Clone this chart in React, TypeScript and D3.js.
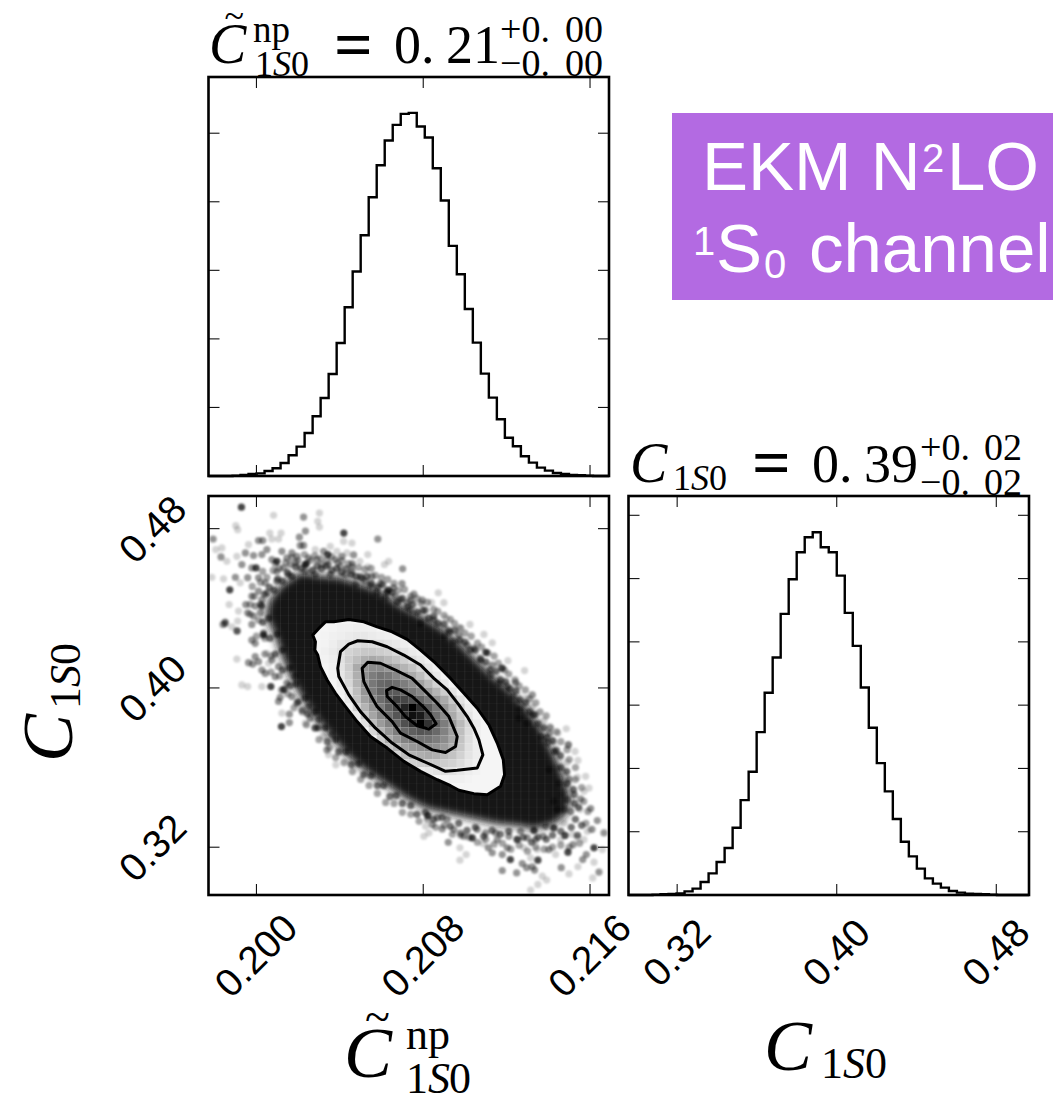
import React from 'react';
import * as d3 from 'd3';

const histTopCounts = [0, 0, 0, 5, 15, 29, 39, 73, 112, 190, 302, 428, 627, 871, 1138, 1488, 1941, 2461, 2982, 3512, 4066, 4533, 4893, 5122, 5282, 5297, 5097, 4937, 4489, 4018, 3356, 2943, 2437, 1946, 1493, 1143, 827, 559, 433, 287, 195, 122, 78, 44, 29, 15, 10, 5, 0, 0];
const histRightCounts = [0, 0, 0, 5, 11, 16, 26, 58, 100, 205, 342, 521, 742, 1063, 1500, 1947, 2574, 3195, 3753, 4442, 4989, 5416, 5653, 5732, 5495, 5416, 5047, 4458, 3937, 3279, 2642, 2084, 1637, 1200, 842, 611, 416, 263, 179, 116, 63, 37, 21, 16, 11, 5, 0, 0, 0, 0];

const xTicks = [0.2, 0.208, 0.216];
const yTicks = [0.32, 0.4, 0.48];
const topCountTicks = [1000, 2000, 3000, 4000, 5000];
const rightCountTicks = [1000, 2000, 3000, 4000, 5000, 6000];

// 2d histogram shades, inside the outer contour: [row from top, first column, greys...]
const cellRows: number[][] = [
  [15, 14, 245, 245, 245, 245, 245, 245, 245],
  [16, 14, 245, 243, 240, 240, 238, 240, 240, 245],
  [17, 13, 245, 243, 240, 238, 235, 232, 232, 235, 238, 240, 243],
  [18, 13, 245, 243, 238, 230, 225, 220, 218, 220, 222, 228, 232, 238, 242],
  [19, 13, 245, 240, 235, 225, 212, 205, 200, 200, 205, 210, 218, 228, 235, 240],
  [20, 14, 242, 238, 225, 205, 190, 175, 168, 175, 185, 195, 208, 222, 232, 240],
  [21, 14, 245, 240, 228, 205, 170, 150, 140, 138, 150, 165, 180, 195, 215, 230, 240],
  [22, 14, 245, 240, 230, 210, 175, 145, 125, 115, 120, 135, 150, 170, 190, 215, 232, 242],
  [23, 15, 245, 235, 215, 180, 145, 120, 105, 100, 110, 125, 140, 160, 185, 210, 230, 242],
  [24, 15, 245, 240, 222, 190, 150, 125, 100, 90, 90, 105, 120, 135, 155, 180, 205, 228, 242],
  [25, 16, 243, 230, 195, 160, 135, 110, 90, 65, 70, 80, 100, 120, 145, 170, 200, 225, 240],
  [26, 17, 240, 212, 180, 150, 125, 95, 70, 35, 0, 45, 90, 120, 150, 180, 210, 235, 243],
  [27, 18, 235, 200, 165, 135, 110, 85, 50, 15, 25, 70, 110, 140, 170, 200, 228, 242, 245],
  [28, 19, 225, 190, 155, 130, 105, 80, 50, 0, 50, 95, 125, 155, 185, 215, 235, 245],
  [29, 20, 215, 180, 150, 125, 105, 95, 85, 90, 105, 130, 160, 190, 220, 238, 245],
  [30, 21, 205, 170, 150, 130, 120, 115, 115, 125, 140, 165, 195, 222, 238, 245, 245],
  [31, 22, 195, 180, 160, 150, 145, 140, 145, 155, 175, 200, 225, 238, 245, 245],
  [32, 23, 210, 190, 180, 175, 170, 175, 185, 195, 210, 228, 238, 245, 245],
  [33, 24, 215, 208, 205, 200, 200, 205, 210, 220, 232, 240, 245, 245],
  [34, 26, 235, 230, 225, 222, 225, 232, 238, 242, 245, 245, 245],
  [35, 28, 245, 243, 240, 240, 243, 245, 245, 245, 245],
  [36, 30, 245, 245, 245, 245, 245, 245],
];

const blobEdge = [[0.20059, 0.4441], [0.20115, 0.4516], [0.20211, 0.4583], [0.20307, 0.4566], [0.20403, 0.4558], [0.20499, 0.4524], [0.20595, 0.4491], [0.20691, 0.4416], [0.20787, 0.4366], [0.20883, 0.4307], [0.20979, 0.4224], [0.21059, 0.414], [0.21139, 0.4057], [0.21219, 0.399], [0.21307, 0.389], [0.21379, 0.3773], [0.21435, 0.3656], [0.21475, 0.3556], [0.21507, 0.3447], [0.21491, 0.3364], [0.21427, 0.3314], [0.21331, 0.3289], [0.21251, 0.3305], [0.21155, 0.3314], [0.21043, 0.3339], [0.20931, 0.3364], [0.20819, 0.3389], [0.20723, 0.3439], [0.20627, 0.3506], [0.20531, 0.3572], [0.20435, 0.3656], [0.20355, 0.3756], [0.20275, 0.3856], [0.20211, 0.3957], [0.20155, 0.4065], [0.20115, 0.4174], [0.20083, 0.4274], [0.20043, 0.4357]];

const contourOuter = [[0.20331, 0.4332], [0.20371, 0.4332], [0.20443, 0.4344], [0.20515, 0.4332], [0.20579, 0.4307], [0.20651, 0.4282], [0.20723, 0.4244], [0.20787, 0.419], [0.20859, 0.4124], [0.20931, 0.4048], [0.20995, 0.3973], [0.21059, 0.3898], [0.21115, 0.3815], [0.21155, 0.3723], [0.21184, 0.3639], [0.2119, 0.3564], [0.21171, 0.3506], [0.21107, 0.3464], [0.21043, 0.3469], [0.20971, 0.3486], [0.20931, 0.3509], [0.20867, 0.3539], [0.20787, 0.3581], [0.20707, 0.3631], [0.20627, 0.3698], [0.20547, 0.3756], [0.20483, 0.3831], [0.20427, 0.3906], [0.20379, 0.3973], [0.20339, 0.404], [0.20307, 0.4107], [0.20294, 0.4165], [0.2028, 0.419], [0.20283, 0.4232], [0.2027, 0.4266], [0.20299, 0.4299]];
const contourSecond = [[0.20486, 0.4237], [0.20555, 0.4232], [0.20627, 0.4207], [0.20707, 0.4165], [0.20787, 0.4115], [0.20851, 0.4048], [0.20915, 0.399], [0.20971, 0.3915], [0.21011, 0.3856], [0.21043, 0.3798], [0.21067, 0.3739], [0.21086, 0.3664], [0.21059, 0.3598], [0.20963, 0.3586], [0.20907, 0.3581], [0.20819, 0.3623], [0.20731, 0.3664], [0.20651, 0.3723], [0.20571, 0.3798], [0.20499, 0.3881], [0.20443, 0.3965], [0.20395, 0.4057], [0.2039, 0.4099], [0.20403, 0.4182], [0.20443, 0.422]];
const contourThird = [[0.20534, 0.4129], [0.20595, 0.4124], [0.20667, 0.409], [0.20747, 0.4048], [0.20803, 0.399], [0.20867, 0.3923], [0.20923, 0.3856], [0.20963, 0.3756], [0.20955, 0.3706], [0.20907, 0.3676], [0.20843, 0.3689], [0.20771, 0.3731], [0.20691, 0.3773], [0.20651, 0.3831], [0.20579, 0.3906], [0.20547, 0.3965], [0.20515, 0.4032], [0.20507, 0.4099]];
const contourInner = [[0.20651, 0.4003], [0.20691, 0.399], [0.20747, 0.3957], [0.20803, 0.3903], [0.20835, 0.3865], [0.20862, 0.382], [0.20827, 0.3793], [0.20771, 0.381], [0.20715, 0.3856], [0.20675, 0.3906], [0.20627, 0.3957], [0.20624, 0.3987]];

const samplesDark = [[0.19928, 0.4908], [0.20419, 0.4778], [0.20342, 0.467], [0.19872, 0.4493], [0.20632, 0.4491], [0.20234, 0.462], [0.19998, 0.4603], [0.20098, 0.4636], [0.2012, 0.3806], [0.20131, 0.3992], [0.20069, 0.4007], [0.20034, 0.4266], [0.21619, 0.3197], [0.21494, 0.3175], [0.2148, 0.3259], [0.21426, 0.3297], [0.21331, 0.3285], [0.2135, 0.3135], [0.21218, 0.3138], [0.20822, 0.3359], [0.21035, 0.3247], [0.21178, 0.4099], [0.21101, 0.4179]];
const samplesMid = [[0.20206, 0.4757], [0.19949, 0.4419], [0.19899, 0.4556], [0.1983, 0.4658], [0.19947, 0.4678], [0.19978, 0.4603], [0.2001, 0.4553], [0.20466, 0.4668], [0.20459, 0.4625], [0.2001, 0.474], [0.2003, 0.474], [0.20226, 0.4716], [0.2021, 0.4716], [0.20582, 0.4748], [0.20226, 0.4858], [0.20235, 0.4788], [0.19792, 0.4748], [0.1993, 0.462], [0.19986, 0.4665], [0.19958, 0.4554], [0.20701, 0.4598], [0.20698, 0.4524], [0.19958, 0.4377], [0.1985, 0.4331], [0.1984, 0.4319], [0.19907, 0.4286], [0.19978, 0.4319], [0.20034, 0.4277], [0.20026, 0.467], [0.2005, 0.4695], [0.20074, 0.4645], [0.20122, 0.4686], [0.20146, 0.4653], [0.2017, 0.4678], [0.20194, 0.4661], [0.2013, 0.4603], [0.20098, 0.4586], [0.20162, 0.462], [0.20189, 0.4628], [0.2025, 0.4653], [0.2029, 0.4645], [0.20322, 0.4686], [0.20314, 0.462], [0.20346, 0.462], [0.20378, 0.4645], [0.2041, 0.4661], [0.20402, 0.4611], [0.20458, 0.4586], [0.20426, 0.4569], [0.20498, 0.4561], [0.20554, 0.4561], [0.20522, 0.4536], [0.20546, 0.4514], [0.20594, 0.4524], [0.20578, 0.4478], [0.20658, 0.4503], [0.20618, 0.4453], [0.20666, 0.4461], [0.2069, 0.4444], [0.20722, 0.4428], [0.20042, 0.4528], [0.2001, 0.4486], [0.19978, 0.4461], [0.2005, 0.4478], [0.19994, 0.4411], [0.20026, 0.4444], [0.20018, 0.4377], [0.19986, 0.4361], [0.20098, 0.4536], [0.20154, 0.4569], [0.20234, 0.4586], [0.20282, 0.4569], [0.20354, 0.4569], [0.20474, 0.4519],
  [0.20158, 0.3826], [0.20158, 0.3868], [0.20106, 0.3932], [0.20114, 0.3953], [0.19962, 0.4127], [0.19982, 0.412], [0.19994, 0.4157], [0.19907, 0.4287], [0.1985, 0.4324], [0.19978, 0.424], [0.19994, 0.4224], [0.20026, 0.409], [0.20074, 0.414], [0.20106, 0.4107], [0.2009, 0.4057], [0.20186, 0.4057], [0.20194, 0.3923], [0.20218, 0.389], [0.20258, 0.3848], [0.20282, 0.3798], [0.20338, 0.3689], [0.2001, 0.4132], [0.20042, 0.4073], [0.20146, 0.4023], [0.2017, 0.3957], [0.2025, 0.3906], [0.20298, 0.384], [0.20362, 0.3765],
  [0.21518, 0.3213], [0.21275, 0.3118], [0.21179, 0.3083], [0.21248, 0.3071], [0.21296, 0.3097], [0.21323, 0.3102], [0.21334, 0.3085], [0.21462, 0.3097], [0.21565, 0.3138], [0.21582, 0.3163], [0.21643, 0.3075], [0.21635, 0.3334], [0.21603, 0.3394], [0.21667, 0.3272], [0.2092, 0.3225], [0.20891, 0.3292], [0.20979, 0.3272], [0.21131, 0.3172], [0.21179, 0.3163], [0.21112, 0.3197], [0.21203, 0.3197], [0.21403, 0.3188], [0.21376, 0.3255], [0.21507, 0.338], [0.21555, 0.3442], [0.21491, 0.3439], [0.21499, 0.3542], [0.21496, 0.3714], [0.2144, 0.3684], [0.21251, 0.3238], [0.21155, 0.3238], [0.21099, 0.3272], [0.21059, 0.3289], [0.20947, 0.3289], [0.20915, 0.3339], [0.20867, 0.3347], [0.21299, 0.3247], [0.21267, 0.328], [0.21387, 0.3305], [0.21443, 0.3389], [0.21427, 0.3431], [0.21451, 0.3522], [0.21403, 0.3589], [0.20995, 0.3255], [0.20843, 0.3314], [0.21147, 0.3272], [0.21211, 0.3255], [0.21339, 0.3238], [0.21475, 0.3389], [0.21523, 0.3464],
  [0.20755, 0.4471], [0.21243, 0.4027], [0.2123, 0.3957], [0.21262, 0.3893], [0.21326, 0.3865], [0.21406, 0.3773], [0.21323, 0.3965], [0.20971, 0.4266], [0.2092, 0.4291], [0.20795, 0.4441], [0.20739, 0.4391], [0.20811, 0.4391], [0.20851, 0.4341], [0.20899, 0.4257], [0.20947, 0.4232], [0.21011, 0.4215], [0.21043, 0.4199], [0.21075, 0.4149], [0.21131, 0.4115], [0.21123, 0.4065], [0.21163, 0.4023], [0.21203, 0.4007], [0.21259, 0.3848], [0.21299, 0.3823], [0.21363, 0.3756], [0.21395, 0.3723], [0.20787, 0.4324], [0.20739, 0.4441]];
const samplesLight = [[0.20418, 0.4736], [0.20458, 0.4728], [0.20302, 0.4878], [0.20294, 0.4837], [0.20302, 0.4808], [0.20082, 0.4867], [0.19901, 0.4815], [0.1991, 0.4795], [0.19834, 0.4703], [0.19805, 0.4695], [0.19962, 0.472], [0.20118, 0.4778], [0.20064, 0.4778], [0.20074, 0.4748], [0.20106, 0.4748], [0.20534, 0.467], [0.20534, 0.4608], [0.20496, 0.4636], [0.20614, 0.462], [0.20634, 0.4636], [0.19786, 0.4556], [0.19842, 0.4548], [0.19858, 0.4636], [0.19906, 0.4661], [0.19922, 0.4528], [0.19869, 0.4419], [0.19914, 0.4386], [0.1991, 0.4336], [0.20282, 0.4695], [0.20354, 0.4711], [0.20386, 0.4686], [0.20434, 0.4678],
  [0.20122, 0.3873], [0.20026, 0.4007], [0.19958, 0.4007], [0.1993, 0.4015], [0.19906, 0.4145], [0.19882, 0.4307], [0.2005, 0.4174], [0.20058, 0.4124], [0.20234, 0.3823], [0.20322, 0.3756], [0.20381, 0.3614], [0.20346, 0.3664],
  [0.21542, 0.3102], [0.21613, 0.3046], [0.21499, 0.3066], [0.21659, 0.3188], [0.21619, 0.3125], [0.21371, 0.3055], [0.21392, 0.3035], [0.2135, 0.3013], [0.21315, 0.2985], [0.20976, 0.3197], [0.21006, 0.3163], [0.20976, 0.3135], [0.21088, 0.3218], [0.21283, 0.3197], [0.21435, 0.3163], [0.21475, 0.3322], [0.21552, 0.3389], [0.21579, 0.3556], [0.21539, 0.3552], [0.21542, 0.3636], [0.21528, 0.3681], [0.21491, 0.3626], [0.21427, 0.3731], [0.21595, 0.3497], [0.21571, 0.3481], [0.21526, 0.3464], [0.21347, 0.3188], [0.21315, 0.3147], [0.20811, 0.3305], [0.20803, 0.3255], [0.20827, 0.3272], [0.21459, 0.3238], [0.21587, 0.328], [0.21571, 0.3238], [0.21603, 0.3289], [0.21539, 0.3247], [0.21515, 0.3264], [0.21467, 0.3472], [0.21435, 0.3598],
  [0.20872, 0.4478], [0.2084, 0.4428], [0.20899, 0.4428], [0.20912, 0.4349], [0.21024, 0.4319], [0.21091, 0.4269], [0.21131, 0.4227], [0.21206, 0.4137], [0.21286, 0.4087], [0.21296, 0.3948], [0.21323, 0.3903], [0.21379, 0.3835], [0.21408, 0.3806], [0.21486, 0.3795], [0.21446, 0.3773], [0.21496, 0.3716], [0.21437, 0.3693], [0.20971, 0.4304], [0.21339, 0.379]];
// the mottled band right along the dense region
const samplesEdge = [[0.2004, 0.447], [0.2002, 0.442], [0.20062, 0.4505], [0.20085, 0.449], [0.20102, 0.4548], [0.20125, 0.4535], [0.20148, 0.458], [0.2017, 0.456], [0.20188, 0.4608], [0.20215, 0.46], [0.2024, 0.4625], [0.20268, 0.459], [0.2029, 0.4612], [0.20312, 0.4598], [0.20335, 0.4612], [0.20362, 0.459], [0.20385, 0.46], [0.20408, 0.458], [0.20432, 0.4598], [0.20455, 0.457], [0.20478, 0.456], [0.20505, 0.4552], [0.2053, 0.456], [0.20552, 0.4525], [0.2058, 0.4505], [0.20605, 0.452], [0.20625, 0.448], [0.2065, 0.448], [0.20675, 0.443], [0.207, 0.445], [0.20725, 0.4405], [0.2075, 0.442], [0.20772, 0.438], [0.208, 0.439], [0.20825, 0.435], [0.2085, 0.436], [0.2087, 0.4325], [0.209, 0.432], [0.20925, 0.428], [0.2095, 0.429], [0.20975, 0.424], [0.21, 0.423], [0.21025, 0.419], [0.2105, 0.419], [0.21075, 0.414], [0.211, 0.413], [0.2112, 0.409], [0.2115, 0.4085], [0.2117, 0.404], [0.21195, 0.403], [0.21215, 0.3995], [0.21245, 0.3985], [0.21262, 0.394], [0.2129, 0.3925], [0.2131, 0.388], [0.21335, 0.3865], [0.2135, 0.382], [0.21378, 0.38], [0.21392, 0.375], [0.2142, 0.3735], [0.2143, 0.368], [0.21458, 0.366], [0.2146, 0.36], [0.21488, 0.358], [0.2149, 0.352], [0.2152, 0.349], [0.21525, 0.342], [0.21545, 0.34], [0.2153, 0.334], [0.2156, 0.331], [0.2151, 0.33], [0.2154, 0.326],
  [0.2146, 0.328], [0.2142, 0.326], [0.2139, 0.324], [0.2135, 0.325], [0.2132, 0.3225], [0.2128, 0.325], [0.2125, 0.324], [0.2121, 0.328], [0.2117, 0.3265], [0.2113, 0.3285], [0.2109, 0.3255], [0.2105, 0.33], [0.2101, 0.3285], [0.2097, 0.332], [0.2093, 0.3305], [0.2089, 0.335], [0.2085, 0.334], [0.2081, 0.3375], [0.2077, 0.3365], [0.2074, 0.341], [0.207, 0.342], [0.2067, 0.346], [0.2064, 0.3455], [0.2061, 0.351], [0.2058, 0.351], [0.2055, 0.356], [0.20515, 0.3565], [0.2049, 0.362], [0.20455, 0.3615], [0.2043, 0.368], [0.20395, 0.368], [0.2038, 0.374], [0.2034, 0.373], [0.2033, 0.38], [0.20295, 0.38], [0.2028, 0.388], [0.20245, 0.387], [0.20235, 0.395], [0.202, 0.393], [0.2019, 0.402], [0.2016, 0.401], [0.2016, 0.41], [0.20125, 0.409], [0.20125, 0.419], [0.2009, 0.417], [0.201, 0.427], [0.20065, 0.425], [0.2006, 0.435], [0.2003, 0.433], [0.20025, 0.441]];
// the looser band outside that one
const samplesFringe = [[0.1999, 0.446], [0.1998, 0.451], [0.2002, 0.453], [0.2005, 0.4555], [0.2003, 0.4585], [0.2008, 0.459], [0.2011, 0.46], [0.2009, 0.4625], [0.2014, 0.463], [0.2017, 0.4655], [0.202, 0.464], [0.2023, 0.467], [0.2026, 0.464], [0.2028, 0.4665], [0.2031, 0.465], [0.2034, 0.464], [0.2036, 0.466], [0.2039, 0.463], [0.2041, 0.464], [0.2044, 0.4625], [0.2046, 0.461], [0.2049, 0.4605], [0.2052, 0.4595], [0.2055, 0.46], [0.2057, 0.4565], [0.206, 0.4555], [0.2063, 0.4545], [0.2066, 0.4525], [0.2068, 0.449], [0.2071, 0.4495], [0.2074, 0.446], [0.2077, 0.445], [0.2079, 0.4425], [0.2082, 0.443], [0.2085, 0.4395], [0.2087, 0.4385], [0.209, 0.4365], [0.2093, 0.4345], [0.2095, 0.4325], [0.2098, 0.43], [0.21, 0.4275], [0.2103, 0.426], [0.2106, 0.4225], [0.2108, 0.4205], [0.2111, 0.4175], [0.2114, 0.416], [0.2116, 0.4125], [0.2119, 0.409], [0.2121, 0.407], [0.2124, 0.404], [0.2126, 0.401], [0.2129, 0.399], [0.2131, 0.3945], [0.2134, 0.3925], [0.2136, 0.388], [0.2139, 0.386], [0.2141, 0.38], [0.2144, 0.378], [0.2146, 0.373], [0.2149, 0.369], [0.215, 0.364], [0.2153, 0.36], [0.2153, 0.354], [0.2156, 0.35], [0.2157, 0.343], [0.2159, 0.338], [0.2158, 0.332], [0.2161, 0.329],
  [0.2155, 0.322], [0.215, 0.32], [0.2146, 0.321], [0.2142, 0.32], [0.2138, 0.319], [0.2134, 0.32], [0.213, 0.318], [0.2126, 0.321], [0.2122, 0.319], [0.2118, 0.322], [0.2114, 0.3215], [0.211, 0.324], [0.2106, 0.3225], [0.2102, 0.325], [0.2098, 0.326], [0.2094, 0.3265], [0.209, 0.331], [0.2086, 0.33], [0.2082, 0.334], [0.2078, 0.333], [0.2074, 0.3365], [0.207, 0.3375], [0.2066, 0.342], [0.2062, 0.3425], [0.2058, 0.347], [0.2054, 0.351], [0.205, 0.354], [0.2046, 0.358], [0.2042, 0.3625], [0.2038, 0.365], [0.2035, 0.37], [0.203, 0.374], [0.2028, 0.38], [0.2024, 0.3815], [0.2022, 0.388], [0.2018, 0.39], [0.2015, 0.397], [0.2012, 0.399], [0.2011, 0.406], [0.2007, 0.408], [0.2007, 0.416], [0.2004, 0.417], [0.2004, 0.425], [0.2, 0.426], [0.2001, 0.434], [0.1997, 0.437], [0.1997, 0.442]];

const SERIF = '"Liberation Serif", serif';
const SANS = '"Liberation Sans", Arial, sans-serif';

const panelX: [number, number] = [208.5, 609];
const rightX: [number, number] = [628.5, 1029];
const topY: [number, number] = [476, 77];
const lowY: [number, number] = [895, 496];

const x2d = d3.scaleLinear().domain([0.1977, 0.21691]).range(panelX);
const y2d = d3.scaleLinear().domain([0.296, 0.4964]).range(lowY);
const xRight = d3.scaleLinear().domain([0.2956, 0.4964]).range(rightX);
const countTop = d3.scaleLinear().domain([0, 5820]).range(topY);
const countRight = d3.scaleLinear().domain([0, 6305]).range(lowY);
const colLeft = d3.scaleLinear().domain([0, 50]).range(panelX);
const rowTop = d3.scaleLinear().domain([0, 50]).range([lowY[1], lowY[0]]);
const colRight = d3.scaleLinear().domain([0, 50]).range(rightX);

const closedPath = d3
  .line<number[]>()
  .x((d) => x2d(d[0]))
  .y((d) => y2d(d[1]))
  .curve(d3.curveLinearClosed);

function stepPath(counts: number[], xs: d3.ScaleLinear<number, number>, ys: d3.ScaleLinear<number, number>) {
  const pts = counts.map((c, i) => [i, c]);
  pts.push([counts.length, counts[counts.length - 1]]);
  return d3
    .line<number[]>()
    .x((d) => xs(d[0]))
    .y((d) => ys(d[1]))
    .curve(d3.curveStepAfter)(pts) as string;
}

function Frame({ x, y, xt, yt }: { x: [number, number]; y: [number, number]; xt: number[]; yt: number[] }) {
  const len = 11;
  return (
    <g>
      {xt.map((t) => (
        <g key={t} stroke="#111" strokeWidth={1.1}>
          <line x1={t} x2={t} y1={y[0]} y2={y[0] - len} />
          <line x1={t} x2={t} y1={y[1]} y2={y[1] + len} />
        </g>
      ))}
      {yt.map((t) => (
        <g key={t} stroke="#111" strokeWidth={1.1}>
          <line x1={x[0]} x2={x[0] + len} y1={t} y2={t} />
          <line x1={x[1]} x2={x[1] - len} y1={t} y2={t} />
        </g>
      ))}
      <rect x={x[0]} y={y[1]} width={x[1] - x[0]} height={y[0] - y[1]} fill="none" stroke="#000" strokeWidth={2.6} />
    </g>
  );
}

function T({ x, y, s, i, b, children }: { x: number; y: number; s: number; i?: boolean; b?: boolean; children: React.ReactNode }) {
  return (
    <text x={x} y={y} fontSize={s} fontFamily={SERIF} fontStyle={i ? 'italic' : 'normal'} fontWeight={b ? 'bold' : 'normal'} fill="#000">
      {children}
    </text>
  );
}

function Points({ pts, opacity }: { pts: number[][]; opacity: number }) {
  return (
    <g fill="#000" fillOpacity={opacity}>
      {pts.map((p, i) => (
        <circle key={i} cx={x2d(p[0])} cy={y2d(p[1])} r={3.6} />
      ))}
    </g>
  );
}

export default function App() {
  const columns = d3.range(1, 50);
  const tickFont = { fontSize: 39, fontFamily: SANS, fill: '#000', textAnchor: 'middle' as const };
  return (
    <svg width={1053} height={1097} style={{ position: 'absolute', left: 0, top: 0, display: 'block' }}>
      <defs>
        <clipPath id="panel">
          <rect x={panelX[0]} y={lowY[1]} width={panelX[1] - panelX[0]} height={lowY[0] - lowY[1]} />
        </clipPath>
        <clipPath id="blob">
          <path d={closedPath(blobEdge) as string} />
        </clipPath>
        <clipPath id="outer">
          <path d={closedPath(contourOuter) as string} />
        </clipPath>
        <filter id="soft" x="-10%" y="-10%" width="120%" height="120%">
          <feGaussianBlur stdDeviation={4} />
        </filter>
        <filter id="dots" x="-10%" y="-10%" width="120%" height="120%">
          <feGaussianBlur stdDeviation={1} />
        </filter>
      </defs>

      {/* top histogram */}
      <path d={stepPath(histTopCounts, colLeft, countTop)} fill="none" stroke="#000" strokeWidth={2.4} />
      <Frame x={panelX} y={topY} xt={xTicks.map((t) => x2d(t))} yt={topCountTicks.map((t) => countTop(t))} />

      {/* right histogram */}
      <path d={stepPath(histRightCounts, colRight, countRight)} fill="none" stroke="#000" strokeWidth={2.4} />
      <Frame x={rightX} y={lowY} xt={yTicks.map((t) => xRight(t))} yt={rightCountTicks.map((t) => countRight(t))} />

      {/* 2d panel */}
      <g clipPath="url(#panel)">
        <path d={closedPath(blobEdge) as string} fill="#181818" filter="url(#soft)" />
        <g filter="url(#dots)">
          <Points pts={samplesLight} opacity={0.17} />
          <Points pts={samplesFringe} opacity={0.36} />
          <Points pts={samplesMid} opacity={0.42} />
          <Points pts={samplesEdge} opacity={0.55} />
          <Points pts={samplesDark} opacity={0.72} />
        </g>
        <g clipPath="url(#blob)">
          {columns.map((c) => (
            <line key={c} x1={colLeft(c)} x2={colLeft(c)} y1={lowY[1]} y2={lowY[0]} stroke="#fff" strokeOpacity={0.07} />
          ))}
          {columns.map((c) => (
            <line key={c} y1={rowTop(c)} y2={rowTop(c)} x1={panelX[0]} x2={panelX[1]} stroke="#fff" strokeOpacity={0.03} />
          ))}
        </g>
        <path d={closedPath(contourOuter) as string} fill="#f5f5f5" />
        <g clipPath="url(#outer)">
          {cellRows.map((r) =>
            r.slice(2).map((v, i) => (
              <rect
                key={r[0] + '-' + i}
                x={colLeft(r[1] + i)}
                y={rowTop(r[0])}
                width={colLeft(1) - colLeft(0)}
                height={rowTop(1) - rowTop(0)}
                fill={d3.rgb(v, v, v).formatHex()}
              />
            ))
          )}
        </g>
        {[contourOuter, contourSecond, contourThird, contourInner].map((c, i) => (
          <path key={i} d={closedPath(c) as string} fill="none" stroke="#000" strokeWidth={3} strokeLinejoin="round" />
        ))}
      </g>
      <Frame x={panelX} y={lowY} xt={xTicks.map((t) => x2d(t))} yt={yTicks.map((t) => y2d(t))} />

      {/* tick labels */}
      {xTicks.map((t) => (
        <text key={t} {...tickFont} transform={`translate(${x2d(t) + 9},965) rotate(-45)`}>
          {t.toFixed(3)}
        </text>
      ))}
      {yTicks.map((t) => (
        <text key={t} {...tickFont} transform={`translate(162,${y2d(t) + 10}) rotate(-45)`}>
          {t.toFixed(2)}
        </text>
      ))}
      {yTicks.map((t) => (
        <text key={t} {...tickFont} transform={`translate(${xRight(t) + 9},962) rotate(-45)`}>
          {t.toFixed(2)}
        </text>
      ))}

      {/* titles */}
      <T x={209} y={63} s={56} i>C</T>
      <T x={224.5} y={28} s={36}>~</T>
      <T x={253} y={42} s={37}>np</T>
      <T x={255} y={76} s={36}>1</T>
      <T x={273} y={76} s={36} i>S</T>
      <T x={291} y={76} s={36}>0</T>
      <T x={334} y={67} s={68} b>=</T>
      <T x={394} y={63} s={54}>0.</T>
      <T x={446} y={63} s={54}>21</T>
      <T x={500} y={42} s={38}>+0.</T>
      <T x={565} y={42} s={38}>00</T>
      <T x={500} y={76} s={38}>−0.</T>
      <T x={565} y={76} s={38}>00</T>

      <T x={630} y={482} s={56} i>C</T>
      <T x={673} y={490} s={36}>1</T>
      <T x={691} y={490} s={36} i>S</T>
      <T x={709} y={490} s={36}>0</T>
      <T x={752} y={485} s={68} b>=</T>
      <T x={812} y={482} s={54}>0.</T>
      <T x={864} y={482} s={54}>39</T>
      <T x={920} y={460} s={38}>+0.</T>
      <T x={984} y={460} s={38}>02</T>
      <T x={920} y={495} s={38}>−0.</T>
      <T x={984} y={495} s={38}>02</T>

      {/* axis labels */}
      <T x={344} y={1077} s={72} i>C</T>
      <T x={365} y={1032} s={46}>~</T>
      <T x={406} y={1049} s={44}>np</T>
      <T x={406} y={1093} s={44}>1</T>
      <T x={428} y={1093} s={44} i>S</T>
      <T x={449} y={1093} s={44}>0</T>

      <T x={764} y={1070} s={72} i>C</T>
      <T x={821} y={1078} s={44}>1</T>
      <T x={843} y={1078} s={44} i>S</T>
      <T x={865} y={1078} s={44}>0</T>

      <g transform="translate(72,762) rotate(-90)">
        <T x={0} y={0} s={72} i>C</T>
        <T x={53} y={8} s={44}>1</T>
        <T x={75} y={8} s={44} i>S</T>
        <T x={97} y={8} s={44}>0</T>
      </g>

      {/* badge */}
      <rect x={672} y={113} width={381} height={187} fill="#b36ae2" />
      <g fontFamily={SANS} fill="#fff">
        <text x={702} y={190} fontSize={69}>EKM N</text>
        <text x={922} y={172} fontSize={40}>2</text>
        <text x={947} y={190} fontSize={69}>LO</text>
        <text x={693} y={255} fontSize={40}>1</text>
        <text x={716} y={272} fontSize={69}>S</text>
        <text x={764} y={278} fontSize={40}>0</text>
        <text x={809} y={272} fontSize={69}>channel</text>
      </g>
    </svg>
  );
}
